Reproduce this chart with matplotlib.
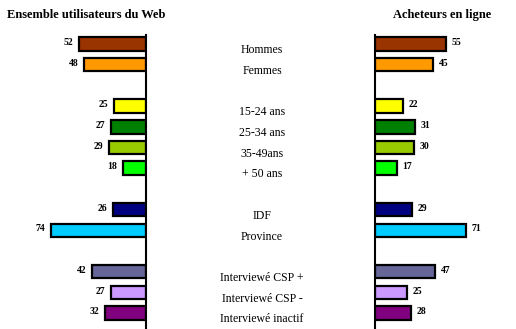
import matplotlib.pyplot as plt
import matplotlib.transforms as mtransforms

plt.rcParams['font.family'] = ['Liberation Serif', 'DejaVu Serif']

categories = ["Hommes", "Femmes",
              "15-24 ans", "25-34 ans", "35-49ans", "+ 50 ans",
              "IDF", "Province",
              "Interviewé CSP +", "Interviewé CSP -", "Interviewé inactif"]
rows = [0, 1, 3, 4, 5, 6, 8, 9, 11, 12, 13]
web_users = [52, 48, 25, 27, 29, 18, 26, 74, 42, 27, 32]
online_buyers = [55, 45, 22, 31, 30, 17, 29, 71, 47, 25, 28]
colors = ["#993300", "#FF9900", "#FFFF00", "#008000", "#99CC00", "#00FF00",
          "#000080", "#00CCFF", "#666699", "#CC99FF", "#800080"]

W, H = 516, 329
fig = plt.figure(figsize=(W / 100, H / 100), dpi=100)

px_per_unit = 1.285
y_top, y_bot = 35, 329
row0, row_step = 44, 20.7
ylim = ((y_bot - row0) / row_step, (y_top - row0) / row_step)

left_zero, right_zero = 146, 375
ax_l = fig.add_axes([0, 0, left_zero / W, (y_bot - y_top) / H])
ax_r = fig.add_axes([right_zero / W, 0, (W - right_zero) / W, (y_bot - y_top) / H])
ax_l.set_xlim(left_zero / px_per_unit, 0)
ax_r.set_xlim(0, (W - right_zero) / px_per_unit)

for ax, vals, side in [(ax_l, web_users, -1), (ax_r, online_buyers, 1)]:
    ax.barh(rows, vals, height=0.65, color=colors, edgecolor="black", linewidth=1.6)
    ax.set_ylim(*ylim)
    for r, v in zip(rows, vals):
        ax.annotate(str(v), (v, r), xytext=(4 * side, 1), textcoords="offset points",
                    ha="left" if side > 0 else "right", va="center",
                    fontsize=7, fontweight="bold")
    ax.set_xticks([])
    ax.set_yticks([])
    for s in ["top", "bottom", "left", "right"]:
        ax.spines[s].set_visible(False)
    keep = "right" if side < 0 else "left"
    ax.spines[keep].set_visible(True)
    ax.spines[keep].set_linewidth(1.5)
    ax.patch.set_visible(False)

# category names between the two panels
trans = mtransforms.blended_transform_factory(fig.transFigure, ax_l.transData)
for r, name in zip(rows, categories):
    fig.text(262 / W, r + 0.3, name, transform=trans, ha="center", va="center",
             fontsize=8.5)

fig.text(7 / W, 1 - 15 / H, "Ensemble utilisateurs du Web", ha="left", va="center",
         fontsize=9, fontweight="bold")
fig.text(442 / W, 1 - 15 / H, "Acheteurs en ligne", ha="center", va="center",
         fontsize=9, fontweight="bold")

fig.savefig("out.png", dpi=100)
